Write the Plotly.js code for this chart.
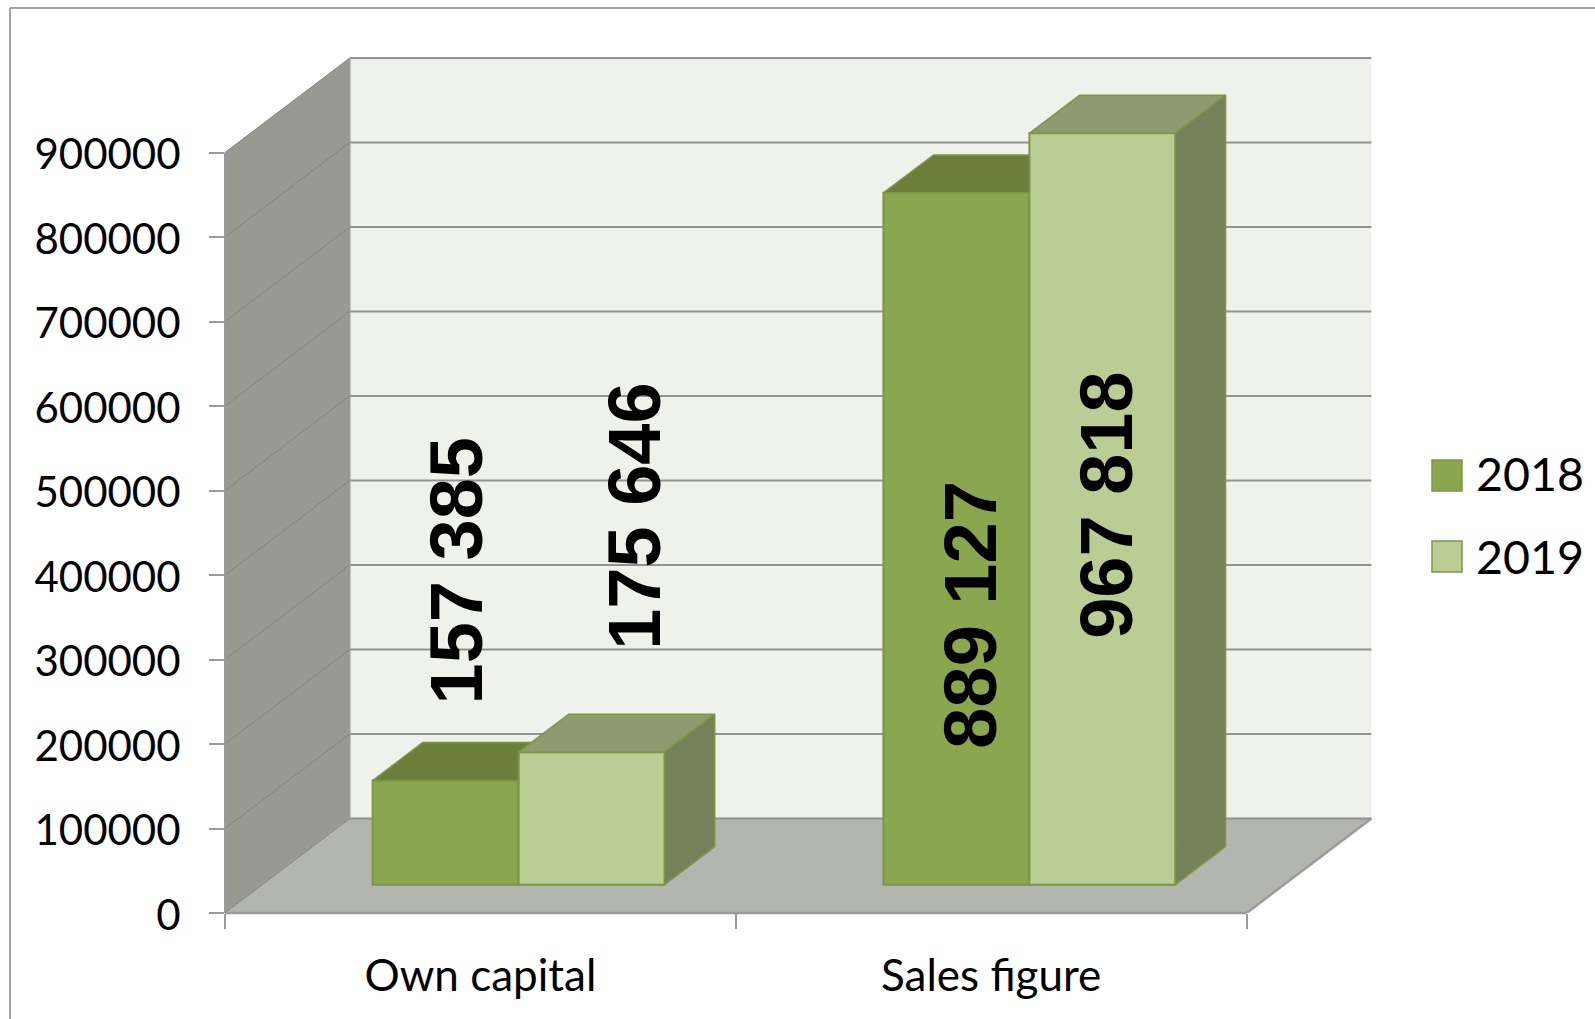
<!DOCTYPE html>
<html>
<head>
<meta charset="utf-8">
<script src="https://cdn.plot.ly/plotly-3.0.1.min.js"></script>
<style>html,body{margin:0;padding:0;background:#fff;overflow:hidden}#chart{width:1595px;height:1019px}</style>
</head>
<body>
<div id="chart"></div>
<script>
// ---- data ----
const categories = ["Own capital", "Sales figure"];
const seriesNames = ["2018", "2019"];
const values2018 = [123200, 818700];   // drawn bar heights
const values2019 = [156800, 889200];
const labels2018 = ["157 385", "889 127"]; // printed data labels
const labels2019 = ["175 646", "967 818"];
const yTicks = [0, 100000, 200000, 300000, 400000, 500000, 600000, 700000, 800000, 900000];

// ---- styling / layout constants ----
const PX_X = 510.8, PX_Y = 84.5 / 100000;   // px per axis unit on the front plane
const L = 225, T = 47, B = 913;
const DX = 0.2443, DY = 111800;              // depth of the 3D box, in axis units
const Y0 = 900000;
const XMAX = 2 + DX + 10 / PX_X;
const BAR_W = 0.2858, Z0 = 0.3, ZB = 0.402;  // bar width, bar plane, bar depth
const colors = {
  front: ["#8aa64f", "#bacd94"], top: ["#6b7e3a", "#8e9b6e"], side: "#74825a", edge: "#7c9648",
  wall: "#989a92", back: "#eef2ea", floor: "#b3b6ae", grid: "#929292", wallGrid: "#828479", axis: "#9a9a9a"
};
const font = "Lato, 'Noto Sans', sans-serif";
const labelAt = [[[0.4536, 405000], [0.8027, 470000]], [[1.4604, 353000], [1.7267, 483000]]]; // [category][series]

const series = [values2018, values2019];
const printed = [labels2018, labels2019];

function project(x, y, d) { return [x + d * DX, y + d * DY]; }
function path(points) { return "M" + points.map(p => p[0] + "," + p[1]).join("L") + "Z"; }

// walls and grid, under the bars
const shapes = [];
function poly(points, fill) {
  shapes.push({type: "path", layer: "below", xref: "x", yref: "y", path: path(points), fillcolor: fill, line: {color: "rgba(0,0,0,0)", width: 0}});
}
function seg(a, b, color, w) {
  shapes.push({type: "line", layer: "below", xref: "x", yref: "y", x0: a[0], y0: a[1], x1: b[0], y1: b[1], line: {color: color, width: w}});
}
poly([[0, 0], [0, Y0], project(0, Y0, 1), project(0, 0, 1)], colors.wall);
poly([project(0, 0, 1), project(0, Y0, 1), project(2, Y0, 1), project(2, 0, 1)], colors.back);
poly([[0, 0], project(0, 0, 1), project(2, 0, 1), [2, 0]], colors.floor);
yTicks.forEach(v => {
  seg(project(2, v, 1), project(0, v, 1), colors.grid, 2);
  seg([0, v], project(0, v, 1), colors.wallGrid, 1);
});
seg(project(0, 0, 1), project(0, Y0, 1), colors.axis, 1.5);
seg([2, 0], project(2, 0, 1), colors.axis, 2.5);
// y axis line and x axis line (not clipped at the plot edge)
shapes.push({type: "line", layer: "above", xref: "paper", yref: "y", x0: 0, x1: 0, y0: 0, y1: Y0, line: {color: colors.axis, width: 2}});
shapes.push({type: "line", layer: "above", xref: "x", yref: "paper", x0: 0, x1: 2, y0: 0, y1: 0, line: {color: colors.axis, width: 2.5}});
// page frame, open to the right and the bottom
const plotW = Math.round(PX_X * XMAX), plotH = B - T;
const px = v => (v - L) / plotW, py = v => (B - v) / plotH;
shapes.push({type: "line", layer: "above", xref: "paper", yref: "paper", x0: px(10), x1: px(1600), y0: py(8), y1: py(8), line: {color: "#a3a3a3", width: 2}});
shapes.push({type: "line", layer: "above", xref: "paper", yref: "paper", x0: px(10), x1: px(10), y0: py(8), y1: py(1025), line: {color: "#a3a3a3", width: 2}});
// legend swatches, larger than the library's own legend markers can be
[[460, 491], [541, 572]].forEach((r, s) => shapes.push({
  type: "rect", layer: "above", xref: "paper", yref: "paper", x0: px(1432), x1: px(1462), y0: py(r[0]), y1: py(r[1]),
  fillcolor: colors.front[s], line: {color: colors.edge, width: 1.5}
}));

// bar geometry
const lift = Z0 * DY, shift = Z0 * DX + 0.0015;
function left(c, s) { return c + 0.5 + shift + (s - 1) * BAR_W; }

const traces = [];
// fronts: real bar traces
series.forEach((vals, s) => {
  traces.push({
    type: "bar", x: vals.map((_, c) => left(c, s) + BAR_W / 2), y: vals, base: vals.map(() => lift), width: BAR_W,
    marker: {color: colors.front[s], line: {color: colors.edge, width: 2}},
    showlegend: false, hoverinfo: "y", name: seriesNames[s]
  });
});
function face(points, fill) {
  const closed = points.concat([points[0]]);
  traces.push({
    type: "scatter", mode: "lines", x: closed.map(p => p[0]), y: closed.map(p => p[1]), fill: "toself", fillcolor: fill,
    line: {color: colors.edge, width: 1.5}, showlegend: false, hoverinfo: "skip"
  });
}
categories.forEach((_, c) => {
  // 2018 top, cut where the 2019 box hides it
  const xl = left(c, 0), xr = xl + BAR_W;
  const top = lift + values2018[c], nextTop = lift + values2019[c];
  const backY = top + ZB * DY;
  const t = Math.max(0, (backY - nextTop) / DY);
  const pts = [[xl, top], project(xl, top, ZB), [xr + t * DX, backY]];
  if (t > 0) pts.push([xr, nextTop]);
  pts.push([xr, top]);
  face(pts, colors.top[0]);
  // 2019 top and side
  const xl2 = left(c, 1), xr2 = xl2 + BAR_W;
  face([[xl2, nextTop], project(xl2, nextTop, ZB), project(xr2, nextTop, ZB), [xr2, nextTop]], colors.top[1]);
  face([[xr2, lift], [xr2, nextTop], project(xr2, nextTop, ZB), project(xr2, lift, ZB)], colors.side);
});
// legend entries (their text; the swatch is the rect shape above)
seriesNames.forEach((n, s) => {
  traces.push({
    type: "scatter", mode: "markers", x: [null], y: [null], name: n, legendgroup: n,
    marker: {symbol: "square", size: 16, color: "rgba(0,0,0,0)"}, hoverinfo: "skip"
  });
});

const annotations = [];
categories.forEach((_, c) => printed.forEach((arr, s) => annotations.push({
  x: labelAt[c][s][0], y: labelAt[c][s][1], xref: "x", yref: "y", text: arr[c], showarrow: false, textangle: -90,
  font: {family: "'Liberation Sans', Arial, sans-serif", size: 74, weight: 700, color: "#000"}
})));

const layout = {
  width: 1595, height: 1019, autosize: false,
  margin: {l: L, r: 1595 - L - plotW, t: T, b: 1019 - B, pad: 0, autoexpand: false},
  paper_bgcolor: "#fff", plot_bgcolor: "rgba(0,0,0,0)",
  barmode: "overlay", showlegend: true,
  xaxis: {
    range: [0, plotW / PX_X], tickmode: "array", tickvals: categories.map((_, i) => i + 0.5), ticktext: categories,
    ticks: "", showgrid: false, zeroline: false, showline: false, ticklabelstandoff: 33,
    tickfont: {family: font, size: 44, color: "#000"},
    minor: {tickmode: "array", tickvals: [0, 1, 2], ticks: "outside", ticklen: 15, tickwidth: 2, tickcolor: colors.axis, showgrid: false}
  },
  yaxis: {
    range: [0, (B - T) / PX_Y], tickmode: "array", tickvals: yTicks, ticktext: yTicks.map(String),
    ticks: "outside", ticklen: 15, tickwidth: 2, tickcolor: colors.axis, showgrid: false, zeroline: false, showline: false,
    ticklabelstandoff: 20, ticklabelshift: 2, tickfont: {family: font, size: 42, color: "#000"}
  },
  legend: {
    x: px(1436), xanchor: "left", y: py(436.5), yanchor: "top", traceorder: "grouped", tracegroupgap: 19,
    font: {family: font, size: 46.5, color: "#000"}, bgcolor: "rgba(0,0,0,0)", itemwidth: 30
  },
  shapes, annotations
};
Plotly.newPlot("chart", traces, layout, {displayModeBar: false, staticPlot: true});
</script>
</body>
</html>
